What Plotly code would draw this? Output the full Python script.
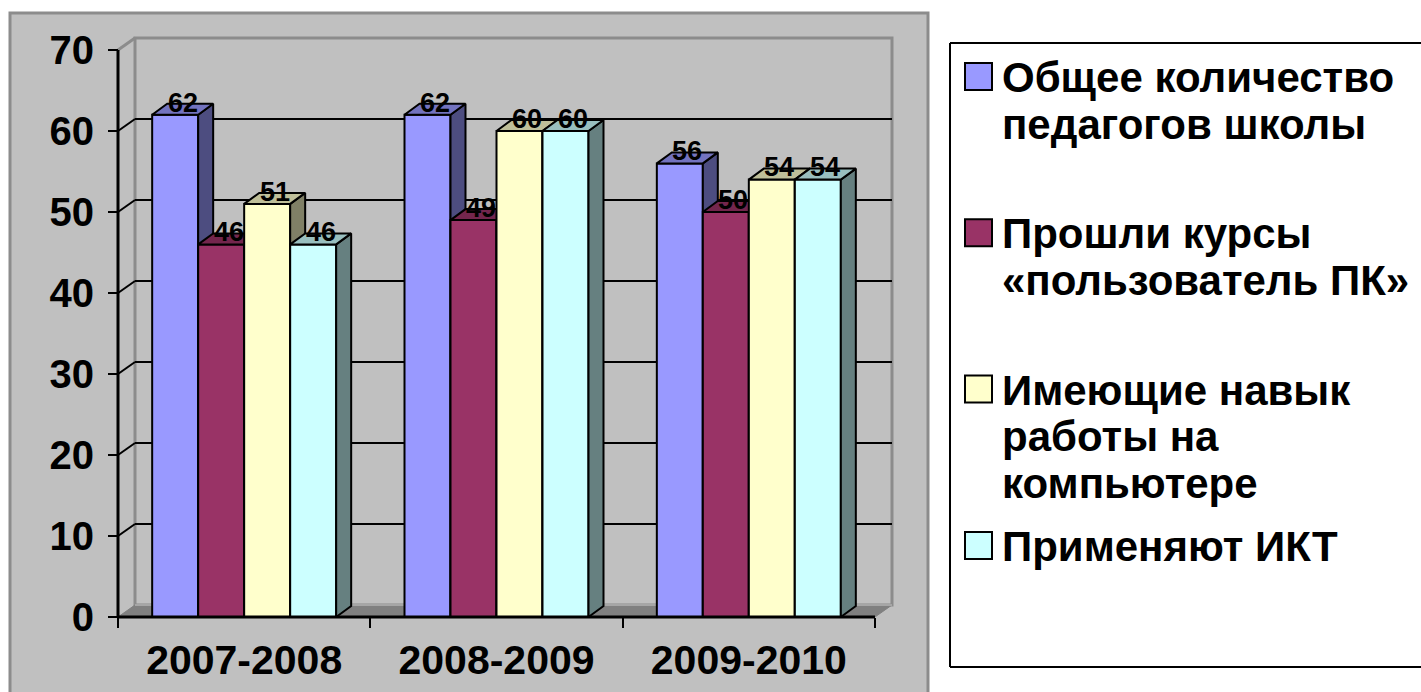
import plotly.graph_objects as go

# ---------------- data ----------------
categories = ["2007-2008", "2008-2009", "2009-2010"]
series_names = [
    "Общее количество\nпедагогов школы",
    "Прошли курсы\n«пользователь ПК»",
    "Имеющие навык\nработы на\nкомпьютере",
    "Применяют ИКТ",
]
total_teachers = [62, 62, 56]
pc_user_courses = [46, 49, 50]
computer_skills = [51, 60, 54]
use_ict = [46, 60, 54]
y_tick_values = [0, 10, 20, 30, 40, 50, 60, 70]

series_values = [total_teachers, pc_user_courses, computer_skills, use_ict]

# ---------------- styles ----------------
front_colors = ["#9999FF", "#993366", "#FFFFCC", "#CCFFFF"]
side_colors = ["#4D4D80", "#4D1A33", "#808066", "#668080"]
top_colors = ["#7373BF", "#73264D", "#BFBF99", "#99BFBF"]
BG_GRAY = "#C0C0C0"
EDGE_GRAY = "#8C8C8C"
FLOOR_GRAY = "#808080"
FONT = "Liberation Sans, Arial, sans-serif"

W, H = 1421, 692
# pixel geometry of the front plane
X0_PX, Y0_PX = 118, 617       # data (0,0)
PXU = 252.33                  # px per category
PYU = 8.1                     # px per value unit
# plot box (a bit larger than the front plane so edges aren't clipped)
Lp, Rp, Tp, Bp = 110, 895, 30, 625

x_range = [(Lp - X0_PX) / PXU, (Rp - X0_PX) / PXU]
y_range = [(Y0_PX - Bp) / PYU, (Y0_PX - Tp) / PYU]

WALL_DX, WALL_DY = 17 / PXU, 12 / PYU
BAR_DX, BAR_DY = 15 / PXU, 11 / PYU
BAR_W = 46 / PXU

n_cat = len(categories)
n_ser = len(series_values)
x_pos = [i + 0.5 for i in range(n_cat)]
y_top = max(y_tick_values)


def px_to_paper_x(px):
    return (px - Lp) / (Rp - Lp)


def px_to_paper_y(py):
    return (Bp - py) / (Bp - Tp)


fig = go.Figure()

# ---------------- bars (each series in its own overlay so it paints over the one on its left) ----------------
for s, vals in enumerate(series_values):
    suffix = "" if s == 0 else str(s + 1)
    xa, ya = "x" + suffix, "y" + suffix
    offset = (s - n_ser / 2) * BAR_W
    fig.add_trace(go.Bar(
        x=x_pos, y=vals, width=BAR_W, offset=offset,
        marker=dict(color=front_colors[s], line=dict(color="black", width=2)),
        name=series_names[s].replace("\n", " "),
        xaxis=xa, yaxis=ya, showlegend=False,
        hovertemplate="%{y}<extra></extra>",
    ))
    sx, sy, tx, ty = [], [], [], []
    for xc, v in zip(x_pos, vals):
        xl = xc + offset
        xr = xl + BAR_W
        sx += [xr, xr + BAR_DX, xr + BAR_DX, xr, xr, None]
        sy += [0, BAR_DY, v + BAR_DY, v, 0, None]
        tx += [xl, xr, xr + BAR_DX, xl + BAR_DX, xl, None]
        ty += [v, v, v + BAR_DY, v + BAR_DY, v, None]
    fig.add_trace(go.Scatter(
        x=sx, y=sy, mode="lines", fill="toself", fillcolor=side_colors[s],
        line=dict(color="black", width=2), xaxis=xa, yaxis=ya,
        hoverinfo="skip", showlegend=False,
    ))
    fig.add_trace(go.Scatter(
        x=tx, y=ty, mode="lines", fill="toself", fillcolor=top_colors[s],
        line=dict(color="black", width=2), xaxis=xa, yaxis=ya,
        hoverinfo="skip", showlegend=False,
    ))

# ---------------- walls / floor / grid ----------------
shapes = []
# outer chart area
shapes.append(dict(type="rect", xref="paper", yref="paper", layer="below",
                   x0=px_to_paper_x(10), x1=px_to_paper_x(928),
                   y0=px_to_paper_y(13), y1=px_to_paper_y(720),
                   fillcolor=BG_GRAY, line=dict(color=EDGE_GRAY, width=3)))
# back wall
shapes.append(dict(type="rect", xref="x", yref="y", layer="below",
                   x0=WALL_DX, x1=n_cat + WALL_DX, y0=WALL_DY, y1=y_top + WALL_DY,
                   fillcolor=BG_GRAY, line=dict(color=EDGE_GRAY, width=3)))
# top edge of side wall
shapes.append(dict(type="line", xref="x", yref="y", layer="below",
                   x0=0, y0=y_top, x1=WALL_DX, y1=y_top + WALL_DY,
                   line=dict(color=EDGE_GRAY, width=3)))
# floor
shapes.append(dict(type="path", xref="x", yref="y", layer="below",
                   path=f"M0,0 L{n_cat},0 L{n_cat + WALL_DX},{WALL_DY} L{WALL_DX},{WALL_DY} Z",
                   fillcolor=FLOOR_GRAY, line=dict(color=FLOOR_GRAY, width=1)))
shapes.append(dict(type="line", xref="x", yref="y", layer="below",
                   x0=WALL_DX, y0=WALL_DY, x1=n_cat + WALL_DX, y1=WALL_DY,
                   line=dict(color="#A6A6A6", width=2)))
# gridlines and their diagonals
for v in y_tick_values[1:-1]:
    shapes.append(dict(type="line", xref="x", yref="y", layer="below",
                       x0=WALL_DX, y0=v + WALL_DY, x1=n_cat + WALL_DX, y1=v + WALL_DY,
                       line=dict(color="black", width=2)))
    shapes.append(dict(type="line", xref="x", yref="y", layer="below",
                       x0=0, y0=v, x1=WALL_DX, y1=v + WALL_DY,
                       line=dict(color="black", width=2)))
# front axis lines
shapes.append(dict(type="line", xref="x", yref="y", layer="below",
                   x0=0, y0=0, x1=0, y1=y_top, line=dict(color="black", width=3)))
shapes.append(dict(type="line", xref="x", yref="y", layer="above",
                   x0=0, y0=0, x1=n_cat, y1=0, line=dict(color="black", width=3)))

# ---------------- legend (drawn; box runs off the right edge) ----------------
LEG_FS = 42
lx0, lx1 = px_to_paper_x(950), px_to_paper_x(1600)
ly0, ly1 = px_to_paper_y(667), px_to_paper_y(43)
shapes.append(dict(type="rect", xref="paper", yref="paper", layer="above",
                   x0=lx0, x1=lx1, y0=ly0, y1=ly1,
                   fillcolor="white", line=dict(width=0)))
for (ax0, ay0, ax1, ay1) in [(lx0, ly1, lx1, ly1), (lx0, ly0, lx1, ly0), (lx0, ly0, lx0, ly1)]:
    shapes.append(dict(type="line", xref="paper", yref="paper", layer="above",
                       x0=ax0, y0=ay0, x1=ax1, y1=ay1,
                       line=dict(color="black", width=2)))
annotations = []
entry_step = 156.3
line_step = 46.7
for s, name in enumerate(series_names):
    top = 63 + s * entry_step
    shapes.append(dict(type="rect", xref="paper", yref="paper", layer="above",
                       x0=px_to_paper_x(965), x1=px_to_paper_x(992),
                       y0=px_to_paper_y(top), y1=px_to_paper_y(top + 27),
                       fillcolor=front_colors[s], line=dict(color="black", width=2)))
    for k, line in enumerate(name.split("\n")):
        baseline = top + 29 + k * line_step
        annotations.append(dict(
            xref="paper", yref="paper", x=px_to_paper_x(1000),
            y=px_to_paper_y(baseline - 0.347 * LEG_FS),
            xanchor="left", yanchor="middle", showarrow=False, text=line,
            font=dict(family=FONT, size=LEG_FS, color="black", weight="bold"),
        ))

# ---------------- data labels ----------------
for s, vals in enumerate(series_values):
    offset = (s - n_ser / 2) * BAR_W
    for xc, v in zip(x_pos, vals):
        annotations.append(dict(
            xref="x", yref="y", x=xc + offset + BAR_W / 2 + BAR_DX / 2,
            y=v + 1.5, xanchor="center", yanchor="middle", showarrow=False,
            text=str(v), font=dict(family=FONT, size=27, color="black", weight="bold"),
        ))

layout = dict(
    width=W, height=H, autosize=False,
    margin=dict(l=Lp, r=W - Rp, t=Tp, b=H - Bp, pad=0, autoexpand=False),
    paper_bgcolor="white", plot_bgcolor="rgba(0,0,0,0)",
    showlegend=False, barmode="overlay",
    xaxis=dict(range=x_range, showgrid=False, zeroline=False, showline=False,
               anchor="free", position=(Bp - Y0_PX) / (Bp - Tp), automargin=False,
               tickmode="array", tickvals=x_pos, ticktext=categories, ticks="",
               ticklabelstandoff=15,
               tickfont=dict(family=FONT, size=41, color="black", weight="bold"),
               minor=dict(tickmode="array", tickvals=list(range(n_cat + 1)),
                          ticks="outside", ticklen=10, tickwidth=2, tickcolor="black",
                          showgrid=False),
               fixedrange=True),
    yaxis=dict(range=y_range, showgrid=False, zeroline=False, showline=False,
               anchor="free", position=(X0_PX - Lp) / (Rp - Lp), automargin=False,
               tickmode="array", tickvals=y_tick_values, ticks="outside",
               ticklen=10, tickwidth=2, tickcolor="black", ticklabelstandoff=6,
               tickfont=dict(family=FONT, size=40, color="black", weight="bold"),
               fixedrange=True),
    shapes=shapes, annotations=annotations,
)
for s in range(1, n_ser):
    layout[f"xaxis{s + 1}"] = dict(overlaying="x", range=x_range, visible=False, fixedrange=True)
    layout[f"yaxis{s + 1}"] = dict(overlaying="y", range=y_range, visible=False, fixedrange=True)

fig.update_layout(**layout)
fig.write_html(
    "out.html",
    config={"displayModeBar": False, "responsive": False},
    post_script="document.body.style.margin='0';document.body.style.overflow='hidden';",
)
